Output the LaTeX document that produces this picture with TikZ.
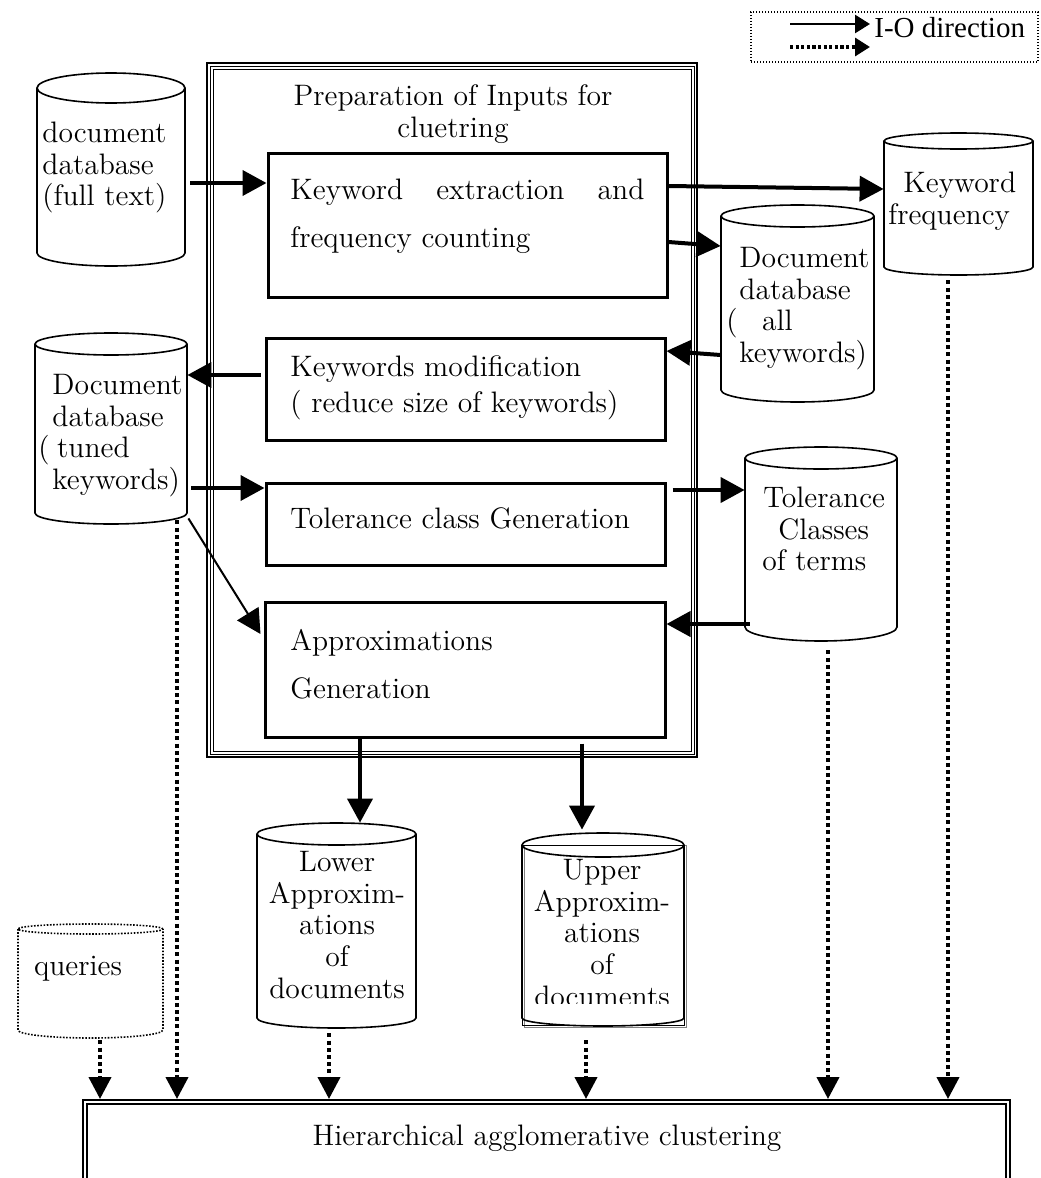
\documentclass[tikz,border=0pt]{standalone}
\usepackage{fontspec}
\newfontfamily\timesf{Liberation Serif}
\usetikzlibrary{arrows.meta,fit,calc}
\newcommand\can[8]{%
  \node[fit={(#2,-#4) (#3,-#6)}, inner sep=0] (#1) {};
  \draw[#8] (#2,-#4) -- (#2,-#6) arc[start angle=180, end angle=360, x radius={(#3-#2)/2}, y radius=#7] -- (#3,-#4);
  \draw[#8] ({(#2+#3)/2},-#4) ellipse[x radius={(#3-#2)/2}, y radius=#5];
}
\begin{document}
\begin{tikzpicture}[x=0.5pt,y=0.5pt,
  font=\fontsize{14.8}{15.9}\selectfont,
  io/.style={line width=2pt, -{Triangle[length=12pt,width=12.5pt]}},
  iothin/.style={line width=1pt, -{Triangle[length=12pt,width=12.5pt]}},
  iodot/.style={line width=2pt, dash pattern=on 2pt off 1.6pt, -{Triangle[length=11pt,width=11pt]}},
  proc/.style={draw, line width=1.5pt, inner sep=0},
  txt/.style={inner sep=0, anchor=north west, align=left},
  ctxt/.style={inner sep=0, anchor=north, align=center},
  canline/.style={line width=0.8pt},
  candot/.style={line width=0.8pt, dash pattern=on 0.8pt off 0.8pt},
]
\useasboundingbox (0,0) rectangle (1040,-1178);
\clip (0,0) rectangle (1040,-1178);

% legend
\node[draw, line width=0.6pt, dash pattern=on 0.6pt off 0.9pt, inner sep=0,
      minimum width=143.5pt, minimum height=25pt] (legend) at (894.5,-37) {};
\coordinate (la1) at (790,-24);
\coordinate (la2) at (870,-24);
\coordinate (lb1) at (790,-47);
\coordinate (lb2) at (870,-47);
\draw[line width=1.3pt, -{Triangle[length=7.5pt,width=9pt]}] (la1) -- (la2);
\draw[line width=1.6pt, dash pattern=on 1.6pt off 1.2pt, -{Triangle[length=7.5pt,width=9pt]}] (lb1) -- (lb2);
\node[anchor=base west, inner sep=0, font=\timesf\fontsize{14.5}{17}\selectfont] (legtxt) at (874,-38) {I-O direction};

% preparation frame
\node[draw, line width=1pt, inner sep=0, minimum width=245pt, minimum height=347pt] (prep) at (452,-410) {};
\draw[line width=0.5pt] ($(prep.north west)+(4,-4)$) rectangle ($(prep.south east)+(-4,4)$);
\draw[line width=0.5pt] ($(prep.north west)+(7,-7)$) rectangle ($(prep.south east)+(-7,7)$);
\node[ctxt] (title) at (453,-82.7) {\strut Preparation of Inputs for\\cluetring};

% process boxes
\node[proc, minimum width=199.5pt, minimum height=72pt] (b1) at (467.5,-225) {};
\node[txt] (t1) at (290,-176.7) {\makebox[177pt][s]{\strut Keyword\hfill extraction\hfill and}\\[8.1pt]frequency counting};
\node[proc, minimum width=199.5pt, minimum height=51pt] (b2) at (465.5,-389) {};
\node[txt] (t2) at (290,-353.7) {\strut Keywords modification\\[2.1pt]( reduce size of keywords)};
\node[proc, minimum width=199.5pt, minimum height=41pt] (b3) at (465.5,-524) {};
\node[txt] (t3) at (290,-505.7) {\strut Tolerance class Generation};
\node[proc, minimum width=200pt, minimum height=67.5pt] (b4) at (465,-669.5) {};
\node[txt] (t4) at (290,-627.7) {\strut Approximations\\[8.1pt]Generation};

% cylinders
\can{docfull}{37}{185}{88}{15}{253}{13}{canline}
\node[txt] (tdocfull) at (42,-119.7) {\strut document\\database\\(full text)};
\can{kf}{884}{1033}{141}{8}{267}{8}{canline}
\node[txt] (tkf) at (888,-169.7) {\strut\hspace{7.5pt}Keyword\\frequency};
\can{all}{721}{874}{216}{11}{390}{12}{canline}
\node[txt] (tall) at (726,-244.7) {\strut\hspace{6.5pt}Document\\\hspace{6.5pt}database\\(\hspace{12.2pt}all\\\hspace{6.5pt}keywords)};
\can{tuned}{35}{187}{344}{11}{513}{11}{canline}
\node[txt] (ttuned) at (38,-371.7) {\strut\hspace{7pt}Document\\\hspace{7pt}database\\(\hspace{3.75pt}tuned\\\hspace{7pt}keywords)};
\can{tol}{745}{897}{458}{11}{627}{14}{canline}
\node[txt] (ttol) at (762,-484.7) {\strut\hspace{0.5pt}Tolerance\\\hspace{8pt}Classes\\of terms};
\can{lower}{257}{416}{834}{11}{1018}{10}{canline}
\node[ctxt] (tlower) at (337,-848.7) {\strut Lower\\Approxim-\\ations\\of\\documents};
\draw[line width=0.5pt, gray] (524,-845) rectangle (686,-1027);
\draw[line width=0.5pt] (522,-845) rectangle (684,-1025);
\can{upper}{522}{684}{845}{12}{1018}{8}{canline}
\begin{scope}
\clip (522,-850) rectangle (684,-1003);
\node[ctxt] (tupper) at (602,-856.7) {\strut Upper\\Approxim-\\ations\\of\\documents};
\end{scope}
\can{queries}{18}{163}{929}{5}{1030}{8}{candot}
\node[anchor=base, inner sep=0] (tqueries) at (78,-975) {queries};

% clustering box
\node[draw, line width=1pt, inner sep=0, minimum width=463.5pt, minimum height=50pt] (hac) at (546.5,-1150) {};
\draw[line width=0.8pt] ($(hac.north west)+(5,-5)$) rectangle ($(hac.south east)+(-5,5)$);
\node[anchor=base, inner sep=0] (thac) at (547,-1145) {Hierarchical agglomerative clustering};

% solid connectors
\draw[io, shorten <=2.5pt] (docfull.east |- 0,-183) -- (b1.west |- 0,-183);
\draw[io] (b1.east |- 0,-186) -- (kf.west |- 0,-189);
\draw[io] (b1.east |- 0,-242) -- (all.west |- 0,-246);
\draw[io] (all.west |- 0,-355) -- (b2.east |- 0,-351);
\draw[io, shorten <=2pt] (b2.west |- 0,-375) -- (tuned.east |- 0,-375);
\draw[io, shorten <=2pt] (tuned.east |- 0,-488) -- (b3.west |- 0,-488);
\draw[iothin] ($(tuned.south east)+(1,-5)$) -- ($(b4.west |- 0,-634)+(-3,0)$);
\draw[io, shorten <=3pt] (b3.east |- 0,-490) -- (tol.west |- 0,-490);
\draw[io, shorten <=-2.5pt] (tol.west |- 0,-624) -- (b4.east |- 0,-624);
\draw[io, shorten >=5.5pt] (b4.south -| 360,0) -- (lower.north -| 360,0);
\draw[io, shorten <=2.5pt, shorten >=7.5pt] (b4.south -| 582,0) -- (upper.north -| 582,0);

% dotted connectors
\draw[iodot, shorten <=5pt] (queries.south -| 100,0) -- (hac.north -| 100,0);
\draw[iodot, shorten <=3.5pt] (tuned.south -| 177,0) -- (hac.north -| 177,0);
\draw[iodot, shorten <=7.5pt] (lower.south -| 329,0) -- (hac.north -| 329,0);
\draw[iodot, shorten <=11pt] (upper.south -| 586,0) -- (hac.north -| 586,0);
\draw[iodot, shorten <=11.5pt] (tol.south -| 828,0) -- (hac.north -| 828,0);
\draw[iodot, shorten <=6.5pt] (kf.south -| 948,0) -- (hac.north -| 948,0);
\end{tikzpicture}
\end{document}
